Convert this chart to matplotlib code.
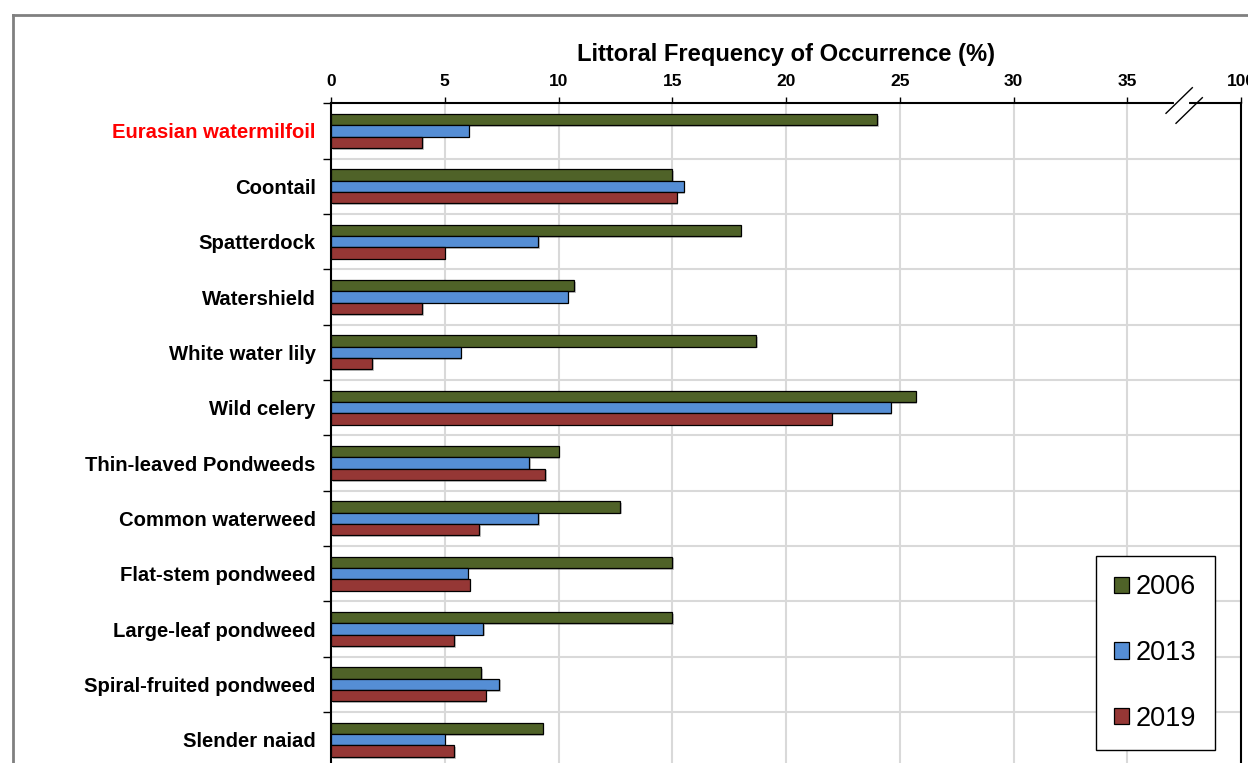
import matplotlib
matplotlib.use("Agg")
import matplotlib.pyplot as plt
import matplotlib.patheffects as pe
from matplotlib.patches import Patch
from matplotlib.lines import Line2D
import numpy as np

plt.rcParams["font.family"] = ["Liberation Sans", "DejaVu Sans"]

species = [
    "Eurasian watermilfoil", "Coontail", "Spatterdock", "Watershield",
    "White water lily", "Wild celery", "Thin-leaved Pondweeds",
    "Common waterweed", "Flat-stem pondweed", "Large-leaf pondweed",
    "Spiral-fruited pondweed", "Slender naiad",
]
freq_2006 = [24.0, 15.0, 18.0, 10.7, 18.7, 25.7, 10.0, 12.7, 15.0, 15.0, 6.6, 9.3]
freq_2013 = [6.05, 15.5, 9.1, 10.4, 5.7, 24.6, 8.7, 9.1, 6.0, 6.7, 7.4, 5.0]
freq_2019 = [4.0, 15.2, 5.0, 4.0, 1.8, 22.0, 9.4, 6.5, 6.1, 5.4, 6.8, 5.4]
years = ["2006", "2013", "2019"]
colors = ["#4F6228", "#558ED5", "#953735"]
x_ticks = [0, 5, 10, 15, 20, 25, 30, 35, 40]
x_tick_labels = ["0", "5", "10", "15", "20", "25", "30", "35", "100"]

W, H = 1248, 763
fig = plt.figure(figsize=(W / 100, H / 100), dpi=100)

# outer chart-area frame
fig.add_artist(Line2D([13 / W, 13 / W], [0, 1 - 15 / H], color="#808080", lw=2,
                      transform=fig.transFigure))
fig.add_artist(Line2D([13 / W, 1], [1 - 15 / H, 1 - 15 / H], color="#808080", lw=2,
                      transform=fig.transFigure))

left, right = 331 / W, 1241 / W
top_px, cat_px = 103.3, 55.35
n = len(species)
bottom_px = top_px + n * cat_px
ax = fig.add_axes([left, 1 - bottom_px / H, right - left, n * cat_px / H])

y = np.arange(n)
bh = 0.205
shadow = [pe.SimplePatchShadow(offset=(1.2, -1.2), shadow_rgbFace="#808080", alpha=0.45),
          pe.Normal()]
for vals, off, col, lab in zip([freq_2006, freq_2013, freq_2019], [-bh, 0, bh], colors, years):
    bars = ax.barh(y + off, vals, height=bh, color=col, edgecolor="black", linewidth=0.9,
                   label=lab, zorder=3)
    for b in bars:
        b.set_path_effects(shadow)

ax.set_xlim(0, 40)
ax.set_ylim(n - 0.5, -0.5)

ax.xaxis.tick_top()
ax.set_xticks(x_ticks)
ax.set_xticklabels(x_tick_labels, fontsize=12.5, fontweight="bold")
ax.tick_params(axis="x", direction="out", length=4, width=1, pad=6)

ax.set_yticks(np.arange(-0.5, n, 1.0))
ax.set_yticklabels([])
ax.tick_params(axis="y", direction="out", length=6, width=1)
ax.set_yticks(y, minor=True)
ax.set_yticklabels(species, minor=True, fontsize=14.6, fontweight="bold")
ax.tick_params(axis="y", which="minor", length=0, pad=11)
for t in ax.get_yticklabels(minor=True):
    if t.get_text() == "Eurasian watermilfoil":
        t.set_color("#FF0000")

ax.grid(True, which="major", axis="both", color="#D9D9D9", linewidth=1.5, zorder=0)
ax.set_axisbelow(True)
for side in ["top", "left", "right"]:
    ax.spines[side].set_linewidth(1.5)
    ax.spines[side].set_color("black")
ax.spines["bottom"].set_visible(False)

# axis break on the top spine between 35 and 100
ax.add_artist(Line2D([1176 / W, 1187 / W], [1 - 102.7 / H] * 2, color="white", lw=3,
                     transform=fig.transFigure, zorder=10, clip_on=False))
for x0, y0, x1, y1 in [(1166, 113.3, 1192.3, 87.7), (1176, 123.3, 1202.3, 97.7)]:
    ax.add_artist(Line2D([x0 / W, x1 / W], [1 - y0 / H, 1 - y1 / H], color="black", lw=1,
                         transform=fig.transFigure, zorder=11, clip_on=False))

fig.text(786 / W, 1 - 55 / H, "Littoral Frequency of Occurrence (%)", ha="center",
         va="center", fontsize=17.1, fontweight="bold")

handles = [Patch(facecolor=c, edgecolor="black", linewidth=0.9) for c in colors]
leg = fig.legend(handles, years, loc="upper left",
                 bbox_to_anchor=(1096 / W, 1 - 556 / H), fontsize=19.5,
                 frameon=True, fancybox=False, edgecolor="black", framealpha=1,
                 handlelength=0.55, handleheight=0.55, handletextpad=0.25,
                 labelspacing=1.46, borderpad=0.68, borderaxespad=0)
leg.get_frame().set_linewidth(1.0)

fig.savefig("out.png", dpi=100)
